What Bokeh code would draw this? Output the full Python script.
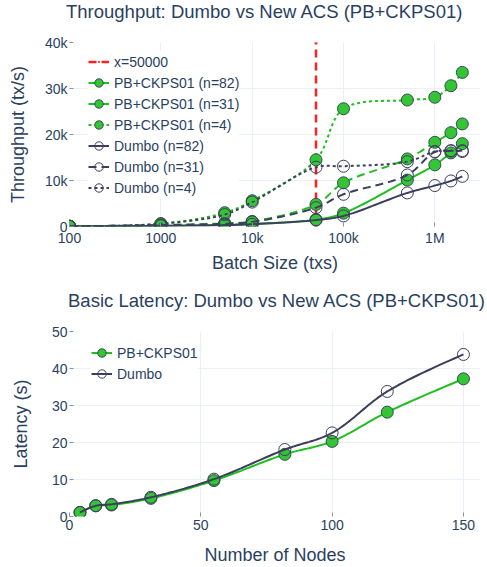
import numpy as np
from bokeh.plotting import figure
from bokeh.layouts import column
from bokeh.models import Range1d, FixedTicker, Legend, LegendItem, Div
from bokeh.embed import file_html
from bokeh.resources import INLINE

# ---------------- data ----------------
batch_sizes = [100, 1000, 5000, 10000, 50000, 100000, 500000, 1000000, 1500000, 2000000]
pb_n82 = [30, 150, 350, 550, 1500, 2900, 10100, 13400, 16000, 18000]
pb_n31 = [50, 300, 700, 1100, 4800, 9500, 14700, 18300, 20400, 22300]
pb_n4 = [80, 600, 3000, 5600, 14500, 25600, 27500, 28100, 30600, 33500]
dumbo_n82 = [30, 150, 300, 500, 1400, 2300, 7300, 8900, 9900, 10900]
dumbo_n31 = [50, 300, 600, 1000, 4100, 7000, 11200, 16200, 16400, 16500]
dumbo_n4 = [80, 600, 2600, 5300, 12900, 13100, 14100, 16300, 16500, 16300]
threshold = 50000
thr_label = "x=50000"

batch_ticks = [100, 1000, 10000, 100000, 1000000]
batch_tick_labels = ["100", "1000", "10k", "100k", "1M"]
thr_ticks = [0, 10000, 20000, 30000, 40000]
thr_tick_labels = ["0", "10k", "20k", "30k", "40k"]

nodes = [4, 10, 16, 31, 55, 82, 100, 121, 150]
lat_pb = [1.1, 2.9, 3.1, 4.9, 9.7, 16.8, 20.3, 28.2, 37.2]
lat_dumbo = [1.1, 2.9, 3.3, 5.2, 10.1, 18.1, 22.6, 33.8, 43.8]
node_ticks = [0, 50, 100, 150]
lat_ticks = [0, 10, 20, 30, 40, 50]

title_top = "Throughput: Dumbo vs New ACS (PB+CKPS01)"
title_bot = "Basic Latency: Dumbo vs New ACS (PB+CKPS01)"

# ---------------- style ----------------
FONT = "Liberation Sans"
TXT = "#2a3f5f"
GRID = "#ebf0f8"
TICK = "#8a93a5"
GREEN_LINE = "#1fbf1f"
GREEN_FILL = "#35c435"
EDGE = "#2f4f4f"
DARK = "#3b3f5c"
RED = "#ff2020"
DASH = "8 5"
DOT = "3 3"


def plotly_spline(px, py, smooth=1.0, steps=24):
    pts = list(zip(px, py))
    n = len(pts)
    if n < 3:
        return list(px), list(py)

    def tangent(p0, p1, p2):
        d1x, d1y = p0[0] - p1[0], p0[1] - p1[1]
        d2x, d2y = p2[0] - p1[0], p2[1] - p1[1]
        d1a = (d1x * d1x + d1y * d1y) ** 0.25
        d2a = (d2x * d2x + d2y * d2y) ** 0.25
        numx = (d2a * d2a * d1x - d1a * d1a * d2x) * smooth
        numy = (d2a * d2a * d1y - d1a * d1a * d2y) * smooth
        den1 = 3 * d2a * (d1a + d2a)
        den2 = 3 * d1a * (d1a + d2a)
        a = (p1[0] + (numx / den1 if den1 else 0), p1[1] + (numy / den1 if den1 else 0))
        b = (p1[0] - (numx / den2 if den2 else 0), p1[1] - (numy / den2 if den2 else 0))
        return a, b

    tans = [tangent(pts[i - 1], pts[i], pts[i + 1]) for i in range(1, n - 1)]
    t = np.linspace(0, 1, steps + 1)[1:]
    ox, oy = [pts[0][0]], [pts[0][1]]

    def quad(p0, c, p1):
        for k in range(2):
            v = (1 - t) ** 2 * p0[k] + 2 * (1 - t) * t * c[k] + t ** 2 * p1[k]
            (ox if k == 0 else oy).extend(v.tolist())

    def cubic(p0, c1, c2, p1):
        for k in range(2):
            v = ((1 - t) ** 3 * p0[k] + 3 * (1 - t) ** 2 * t * c1[k]
                 + 3 * (1 - t) * t ** 2 * c2[k] + t ** 3 * p1[k])
            (ox if k == 0 else oy).extend(v.tolist())

    quad(pts[0], tans[0][0], pts[1])
    for i in range(2, n - 1):
        cubic(pts[i - 1], tans[i - 2][1], tans[i - 1][0], pts[i])
    quad(pts[n - 2], tans[n - 3][1], pts[n - 1])
    return ox, oy


def style_axes(p, xticks, yticks, x_als, y_als):
    for ax in (p.xaxis[0], p.yaxis[0]):
        ax.axis_line_color = None
        ax.major_tick_in = 4
        ax.major_tick_out = 0
        ax.major_tick_line_color = TICK
        ax.minor_tick_line_color = None
        ax.major_label_text_font = FONT
        ax.major_label_text_font_size = "14px"
        ax.major_label_text_color = TXT
        ax.axis_label_text_font = FONT
        ax.axis_label_text_font_size = "18px"
        ax.axis_label_text_font_style = "normal"
        ax.axis_label_text_color = TXT
    p.xaxis[0].ticker = FixedTicker(ticks=xticks)
    p.yaxis[0].ticker = FixedTicker(ticks=yticks)
    p.xaxis[0].major_label_standoff = 3
    p.yaxis[0].major_label_standoff = 2
    p.xaxis[0].axis_label_standoff = x_als
    p.yaxis[0].axis_label_standoff = y_als
    p.xgrid[0].ticker = FixedTicker(ticks=xticks)
    p.ygrid[0].ticker = FixedTicker(ticks=yticks)
    p.xgrid[0].grid_line_color = GRID
    p.ygrid[0].grid_line_color = GRID
    p.outline_line_color = None


def title_div(text, pad_left, pad_top, height):
    html = ('<div style="font-family:\'Liberation Sans\',Arial,sans-serif;font-size:18.5px;'
            f'color:{TXT};text-align:center;padding-left:{pad_left}px;padding-top:{pad_top}px;'
            f'line-height:22px;white-space:nowrap;">{text}</div>')
    return Div(text=html, width=W, height=height, margin=0)


def make_legend(items, loc):
    return Legend(items=items, location=loc, glyph_width=21, glyph_height=21,
                  label_height=21, spacing=0, label_standoff=5, padding=3, margin=0,
                  border_line_color=None, background_fill_color="white",
                  background_fill_alpha=1.0, label_text_font=FONT,
                  label_text_font_size="14px", label_text_color=TXT)


W = 487
HEAD = 30

# ---------------- top: throughput ----------------
T_L, T_R, T_T, T_B, T_H = 68, 7, 12, 62, 258
x_lo, x_hi = 100, 10 ** 6.5
y_lo, y_hi = thr_ticks[0], thr_ticks[-1]
fw1 = W - T_L - T_R
fh1 = T_H - T_T - T_B
KX1 = fw1 / (np.log10(x_hi) - np.log10(x_lo))
KY1 = fh1 / (y_hi - y_lo)

p1 = figure(width=W, height=T_H, x_axis_type="log",
            x_range=Range1d(x_lo, x_hi), y_range=Range1d(y_lo, y_hi),
            x_axis_label="Batch Size (txs)", y_axis_label="Throughput (tx/s)",
            output_backend="svg", toolbar_location=None,
            min_border_left=T_L, min_border_right=T_R,
            min_border_top=T_T, min_border_bottom=T_B,
            background_fill_color="white", border_fill_color="white")
style_axes(p1, batch_ticks, thr_ticks, 4, 14)
p1.xaxis[0].major_label_overrides = {t: l for t, l in zip(batch_ticks, batch_tick_labels)}
p1.yaxis[0].major_label_overrides = {t: l for t, l in zip(thr_ticks, thr_tick_labels)}


def smooth_top(xs, ys):
    px = [np.log10(v) * KX1 for v in xs]
    py = [v * KY1 for v in ys]
    sx, sy = plotly_spline(px, py)
    return [10 ** (v / KX1) for v in sx], [v / KY1 for v in sy]


items1 = []
vl = p1.line([threshold, threshold], [y_lo, y_hi], line_color=RED, line_width=2.5, line_dash=DASH)
vd = p1.scatter([threshold, threshold], [y_lo, y_hi], marker="dot", size=12,
                line_color=RED, fill_color=RED)
items1.append(LegendItem(label=thr_label, renderers=[vl, vd]))

series1 = [
    ("PB+CKPS01 (n=82)", pb_n82, "pb", "solid"),
    ("PB+CKPS01 (n=31)", pb_n31, "pb", DASH),
    ("PB+CKPS01 (n=4)", pb_n4, "pb", DOT),
    ("Dumbo (n=82)", dumbo_n82, "du", "solid"),
    ("Dumbo (n=31)", dumbo_n31, "du", DASH),
    ("Dumbo (n=4)", dumbo_n4, "du", DOT),
]
for label, ys, kind, dash in series1:
    sx, sy = smooth_top(batch_sizes, ys)
    if kind == "pb":
        lr = p1.line(sx, sy, line_color=GREEN_LINE, line_width=2, line_dash=dash)
        sr = p1.scatter(batch_sizes, ys, size=12, fill_color=GREEN_FILL,
                        line_color=EDGE, line_width=1)
    else:
        lr = p1.line(sx, sy, line_color=DARK, line_width=2, line_dash=dash)
        sr = p1.scatter(batch_sizes, ys, size=12, fill_color=None,
                        line_color=DARK, line_width=1)
    items1.append(LegendItem(label=label, renderers=[lr, sr]))

p1.add_layout(make_legend(items1, (19, 28)))

# ---------------- bottom: latency ----------------
B_L, B_R, B_T, B_B, B_H = 69, 7, 13, 50, 249
nx_lo, nx_hi = 0, 156.5
ly_lo, ly_hi = lat_ticks[0], lat_ticks[-1]
fw2 = W - B_L - B_R
fh2 = B_H - B_T - B_B
KX2 = fw2 / (nx_hi - nx_lo)
KY2 = fh2 / (ly_hi - ly_lo)

p2 = figure(width=W, height=B_H,
            x_range=Range1d(nx_lo, nx_hi), y_range=Range1d(ly_lo, ly_hi),
            x_axis_label="Number of Nodes", y_axis_label="Latency (s)",
            output_backend="svg", toolbar_location=None,
            min_border_left=B_L, min_border_right=B_R,
            min_border_top=B_T, min_border_bottom=B_B,
            background_fill_color="white", border_fill_color="white")
style_axes(p2, node_ticks, lat_ticks, 12, 18)


def smooth_bot(xs, ys):
    sx, sy = plotly_spline([v * KX2 for v in xs], [v * KY2 for v in ys])
    return [v / KX2 for v in sx], [v / KY2 for v in sy]


sx, sy = smooth_bot(nodes, lat_pb)
l_pb = p2.line(sx, sy, line_color=GREEN_LINE, line_width=2)
s_pb = p2.scatter(nodes, lat_pb, size=12, fill_color=GREEN_FILL, line_color=EDGE, line_width=1)
sx, sy = smooth_bot(nodes, lat_dumbo)
l_du = p2.line(sx, sy, line_color=DARK, line_width=2)
s_du = p2.scatter(nodes, lat_dumbo, size=12, fill_color=None, line_color=DARK, line_width=1)

p2.add_layout(make_legend([LegendItem(label="PB+CKPS01", renderers=[l_pb, s_pb]),
                           LegendItem(label="Dumbo", renderers=[l_du, s_du])], (22, 132)))

layout = column(title_div(title_top, 66, 1, HEAD), p1,
                title_div(title_bot, 68, 2, HEAD), p2, spacing=0)
open("out.html", "w").write(file_html(layout, INLINE))
